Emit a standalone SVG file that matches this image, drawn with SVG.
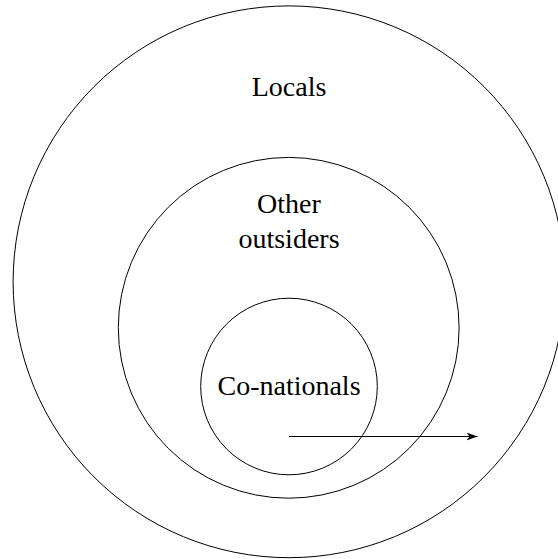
<svg xmlns="http://www.w3.org/2000/svg" width="558" height="559" viewBox="0 0 558 559">
<style>
.c{fill:none;stroke:#000;stroke-width:1}
.t{font-family:"Liberation Serif","DejaVu Serif",serif;font-size:28px;fill:#000;text-anchor:middle}
.a{stroke:#000;stroke-width:1.2;fill:none}
</style>
<defs>
<marker id="ah" markerWidth="12" markerHeight="10" refX="11" refY="5" orient="auto" markerUnits="userSpaceOnUse">
<path d="M0,1 L11,5 L0,9 L3,5 Z" fill="#000"/>
</marker>
</defs>
<rect width="558" height="559" fill="#fff"/>
<g id="locals">
<circle class="c" cx="289" cy="281.8" r="275.9"/>
<text class="t" x="289" y="96">Locals</text>
</g>
<g id="other-outsiders">
<circle class="c" cx="288.7" cy="327.8" r="170.4"/>
<text class="t" x="289" y="213">Other</text>
<text class="t" x="289" y="248">outsiders</text>
</g>
<g id="co-nationals">
<circle class="c" cx="289" cy="386.5" r="88.3"/>
<text class="t" x="289" y="395">Co-nationals</text>
</g>
<g id="connectors">
<line class="a" x1="289" y1="436.5" x2="477.5" y2="436.5" marker-end="url(#ah)"/>
</g>
</svg>
